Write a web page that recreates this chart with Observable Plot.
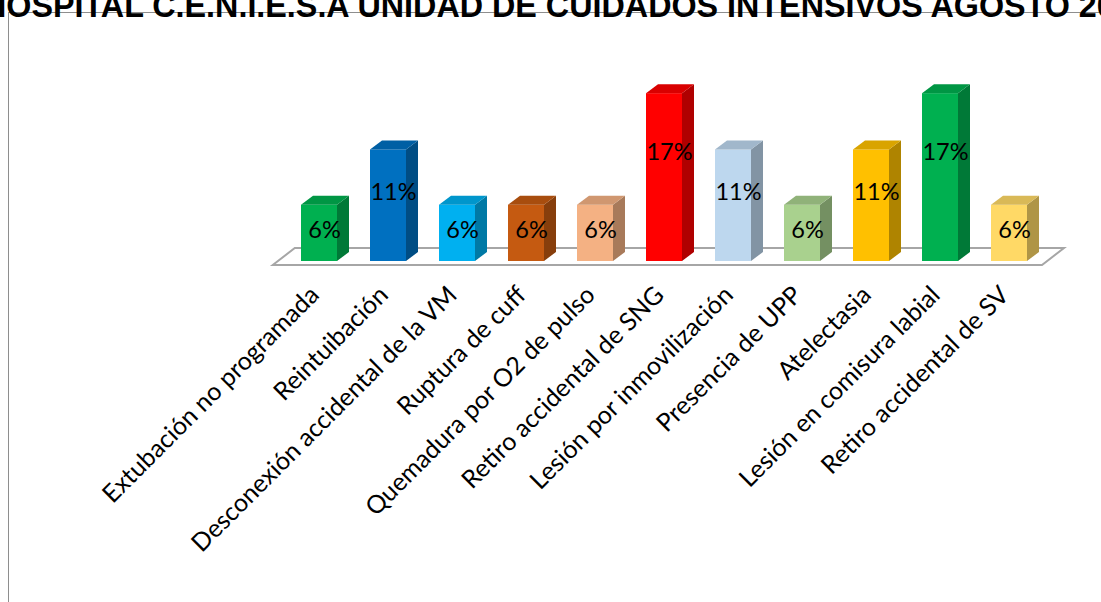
<!DOCTYPE html>
<html><head><meta charset="utf-8">
<script src="https://cdn.jsdelivr.net/npm/d3@7"></script>
<script src="https://cdn.jsdelivr.net/npm/@observablehq/plot@0.6"></script>
<style>
html,body{margin:0;padding:0;background:#fff;overflow:hidden;width:1101px;height:602px}
#wrap{position:relative;width:1101px;height:602px;overflow:hidden}
#frame{position:absolute;left:8px;top:12px;width:1200px;height:700px;border:1.5px solid #8e8e8e;box-sizing:border-box}
#chart{position:absolute;left:0;top:0}
#title{position:absolute;left:-17px;top:-10px;font:bold 32.3px "Liberation Sans",Arial,sans-serif;white-space:nowrap;line-height:32px;color:#000}
</style></head>
<body><div id="wrap"><div id="frame"></div><div id="chart"></div><div id="title">HOSPITAL C.E.N.I.E.S.A UNIDAD DE CUIDADOS INTENSIVOS AGOSTO 20</div></div>
<script>
const categories = ["Extubación no programada","Reintuibación","Desconexión accidental de la VM","Ruptura de cuff","Quemadura por O2 de pulso","Retiro accidental de SNG","Lesión por inmovilización","Presencia de UPP","Atelectasia","Lesión en comisura labial","Retiro accidental de SV"];
const values = [5.6, 11.1, 5.6, 5.6, 5.6, 16.7, 11.1, 5.6, 11.1, 16.7, 5.6];
const colors = ["#00B050","#0070C0","#00B0F0","#C55A11","#F4B183","#FF0000","#BDD7EE","#A9D18E","#FFC000","#00B050","#FFD966"];

const rows = categories.map((c, i) => ({cat: c, value: values[i], color: colors[i]}));
const DX = 12, DY = 9;

function floor(index, scales) {
  const x = scales.x, y = scales.y;
  const [r0, r1] = x.range();
  const fy = y(0) + 4, by = y(0) - 13;
  const fl = r0 - 7, fr = r1 - 5.6;
  const g = d3.create("svg:g");
  g.append("path")
    .attr("d", `M${fl},${fy}L${fr},${fy}L${fr + 22},${by}L${fl + 22},${by}Z`)
    .attr("fill", "#fff").attr("stroke", "#a6a6a6").attr("stroke-width", 2).attr("stroke-linejoin", "miter");
  return g.node();
}

function faces(index, scales) {
  const x = scales.x, y = scales.y;
  const bw = typeof x.bandwidth === "function" ? x.bandwidth() : x.bandwidth;
  const g = d3.create("svg:g");
  for (const r of rows) {
    const xl = x(r.cat), xr = xl + bw, yt = y(r.value), yb = y(0);
    g.append("path")
      .attr("d", `M${xr},${yt}L${xr + DX},${yt - DY}L${xr + DX},${yb - DY}L${xr},${yb}Z`)
      .attr("fill", d3.color(r.color).darker(1.05).formatHex());
    g.append("path")
      .attr("d", `M${xl},${yt}L${xr},${yt}L${xr + DX},${yt - DY}L${xl + DX},${yt - DY}Z`)
      .attr("fill", d3.color(r.color).darker(0.45).formatHex());
  }
  return g.node();
}

const chart = Plot.plot({
  width: 1101,
  height: 602,
  margin: 0,
  x: {type: "band", domain: categories, range: [279.8, 1047.6], paddingInner: 0.484, paddingOuter: 0.242, axis: null},
  y: {domain: [0, 20], range: [261, 60], axis: null},
  color: {type: "identity"},
  marks: [
    floor,
    Plot.barY(rows, {x: "cat", y: "value", fill: "color"}),
    faces,
    Plot.text(rows, {x: "cat", y: d => d.value * 0.7, text: d => `${Math.round(d.value)}%`, dx: 5, dy: 8.6, fontSize: 23.5, fontFamily: "Lato, 'Open Sans', sans-serif", fill: "#000"}),
    Plot.text(categories, {x: d => d, y: d => 0, text: d => d, rotate: -45, textAnchor: "end", lineAnchor: "bottom", dx: 1, dy: 35, fontSize: 25, fontFamily: "Lato, 'Open Sans', sans-serif", fill: "#000"})
  ]
});
chart.style.background = "transparent";
document.getElementById("chart").appendChild(chart);
</script>
</body></html>
